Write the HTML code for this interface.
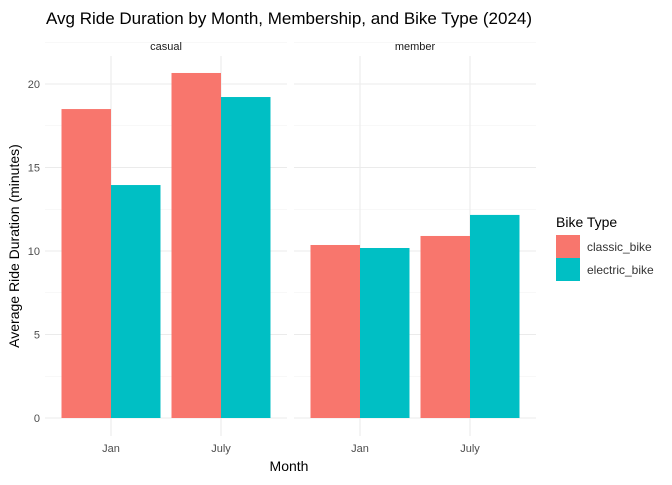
<!DOCTYPE html>
<html><head><meta charset="utf-8"><style>
body{margin:0;background:#fff;font-family:"Liberation Sans",sans-serif}
svg text{font-family:"Liberation Sans",sans-serif}
</style></head><body>
<svg id="chart" width="672" height="480">
<text x="46" y="24" font-size="17" fill="#000">Avg Ride Duration by Month, Membership, and Bike Type (2024)</text>
<g id="plot"></g>
<text x="289" y="471" font-size="14" text-anchor="middle" fill="#000">Month</text>
<text transform="translate(19,246) rotate(-90)" font-size="14" text-anchor="middle" fill="#000">Average Ride Duration (minutes)</text>
<text x="556" y="227" font-size="14" fill="#000">Bike Type</text>
<rect x="556" y="235" width="24" height="23" fill="#F8766D"/>
<text x="587" y="251" font-size="12" fill="#333">classic_bike</text>
<rect x="556" y="258" width="24" height="23" fill="#00BFC4"/>
<text x="587" y="274" font-size="12" fill="#333">electric_bike</text>
</svg>
<script>
const panels=["casual","member"];
const months=["Jan","July"];
const types=["classic_bike","electric_bike"];
const casualVals=[[18.5,13.95],[20.66,19.22]];
const memberVals=[[10.36,10.18],[10.9,12.16]];
const yTicks=[0,5,10,15,20];
const colors=["#F8766D","#00BFC4"];
const ns="http://www.w3.org/2000/svg";
const g=document.getElementById("plot");
function y(v){return 418-v*16.7;}
const panelLeft=[45,294],panelW=242,topY=56,bottomY=436,step=110;
function mk(t,a){const e=document.createElementNS(ns,t);for(const k in a)e.setAttribute(k,a[k]);g.appendChild(e);return e;}
panels.forEach((p,pi)=>{
  const L=panelLeft[pi];
  const vals=pi===0?casualVals:memberVals;
  for(let i=0;i<yTicks.length;i++){
    const ml=mk("line",{x1:L,x2:L+panelW,y1:y(yTicks[i]+2.5),y2:y(yTicks[i]+2.5),stroke:"#f2f2f2","stroke-width":0.6});
    
    
    const gl=mk("line",{x1:L,x2:L+panelW,y1:y(yTicks[i]),y2:y(yTicks[i]),stroke:"#ebebeb","stroke-width":1.1});
    
    
  }
  const st=mk("text",{x:L+panelW/2,y:50,"font-size":11,fill:"#1a1a1a","text-anchor":"middle"});
  st.textContent=p;
  
  
  months.forEach((m,mi)=>{
    const cx=L+step*0.6+mi*step;
    const vl=mk("line",{x1:cx,x2:cx,y1:topY,y2:bottomY,stroke:"#ebebeb","stroke-width":1.1});
    
    
    const bw=step*0.9/2;
    types.forEach((t,ti)=>{
      const v=vals[mi][ti];
      const r=mk("rect",{x:cx-step*0.45+ti*bw,y:y(v),width:bw,height:y(0)-y(v),fill:colors[ti]});
      
      
    });
    const tl=mk("text",{x:cx,y:452,"font-size":11,fill:"#4d4d4d","text-anchor":"middle"});
    tl.textContent=m;
    
    
  });
});
yTicks.forEach(v=>{
  const t=mk("text",{x:40,y:y(v)+4,"font-size":11,fill:"#4d4d4d","text-anchor":"end"});
  t.textContent=v;
  
  
});
</script>
</body></html>
